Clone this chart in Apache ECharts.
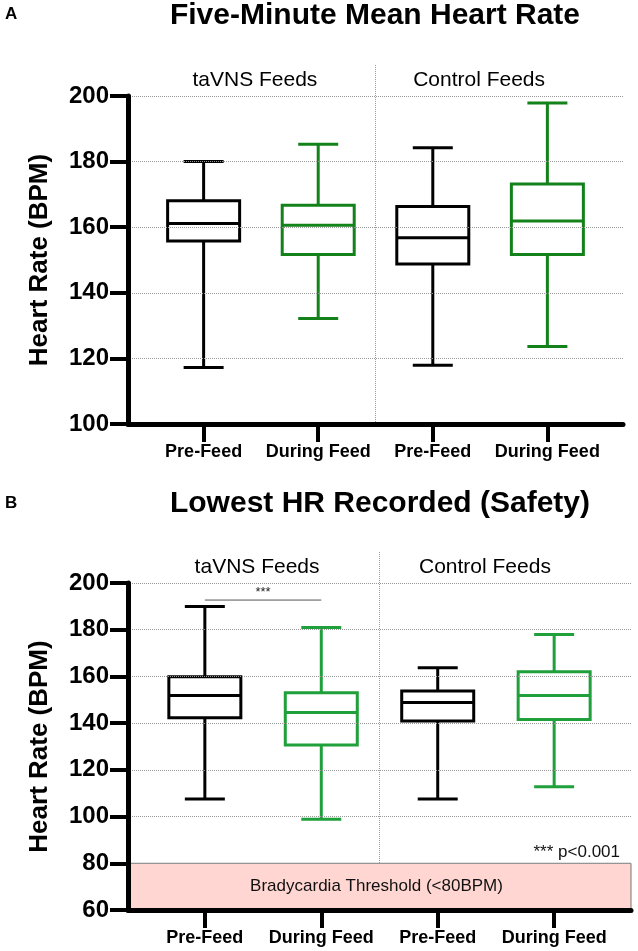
<!DOCTYPE html>
<html><head><meta charset="utf-8">
<script src="https://cdn.jsdelivr.net/npm/echarts@6/dist/echarts.min.js"></script>
<style>html,body{margin:0;padding:0;background:#fff}#c{width:638px;height:951px}</style>
</head><body><div id="c"></div>
<script>
// ---------------- data ----------------
const categories = ['Pre-Feed', 'During Feed', 'Pre-Feed', 'During Feed'];
const groupLabels = ['taVNS Feeds', 'Control Feeds'];
const titleA = 'Five-Minute Mean Heart Rate';
const titleB = 'Lowest HR Recorded (Safety)';
const yName = 'Heart Rate (BPM)';
// each box: [min, Q1, median, Q3, max]
const meanHR = [
  [117.2, 155.8, 161.1, 168.1, 180.0],
  [132.2, 151.7, 160.6, 166.7, 185.3],
  [117.9, 148.8, 156.8, 166.3, 184.2],
  [123.6, 151.7, 161.9, 173.2, 197.9]
];
const lowestHR = [
  [107.5, 142.3, 151.8, 159.9, 189.9],
  [98.8, 130.6, 144.6, 153.0, 180.9],
  [107.5, 140.9, 148.8, 153.8, 163.7],
  [112.8, 141.6, 151.8, 162.0, 178.0]
];
const yRangeA = [100, 200];
const yRangeB = [60, 200];
const yStep = 20;
const bradyRange = [60, 80];
const bradyLabel = 'Bradycardia Threshold (<80BPM)';
const sigPair = [1, 2];
const sigLevel = 192.7;
const sigMark = '***';
const pNote = '*** p<0.001';

// ---------------- style ----------------
const FONT = '"Liberation Sans", Arial, Helvetica, sans-serif';
const BLACK = '#000000';
const GREEN_A = '#14821b';
const GREEN_B = '#1fa03a';
const X_MIN = 0.34, X_MAX = 4.66;
const tickVals = categories.map((c, i) => i + 1);

function txt(x, y, text, size, weight, align, valign, color) {
  return {
    type: 'text', x: x, y: y,
    style: {
      text: text, fontSize: size, fontWeight: weight, fontFamily: FONT,
      fill: color || '#000', align: align, verticalAlign: valign,
      textAlign: align, textVerticalAlign: valign
    }
  };
}

function xAxisCfg(gi) {
  return {
    type: 'value', gridIndex: gi, min: X_MIN, max: X_MAX, z: 5,
    splitLine: { show: false },
    axisLine: { show: true, onZero: false, lineStyle: { color: '#000', width: 5 } },
    axisTick: { show: true, customValues: tickVals, length: 18, lineStyle: { color: '#000', width: 4 } },
    axisLabel: {
      customValues: tickVals, margin: 19, fontSize: 18, fontWeight: 'bold', color: '#000', fontFamily: FONT,
      formatter: v => categories[Math.round(v) - 1] || ''
    }
  };
}
function yAxisCfg(gi, range) {
  return {
    type: 'value', gridIndex: gi, min: range[0], max: range[1], interval: yStep, z: 5,
    name: yName, nameLocation: 'middle', nameGap: 75,
    nameTextStyle: { fontSize: 26, fontWeight: 'bold', color: '#000', fontFamily: FONT },
    axisLine: { show: true, onZero: false, lineStyle: { color: '#000', width: 5 } },
    axisTick: { show: true, length: 18, lineStyle: { color: '#000', width: 4 } },
    axisLabel: { margin: 19, fontSize: 24, fontWeight: 'bold', color: '#000', fontFamily: FONT },
    splitLine: { show: true, lineStyle: { color: '#999', type: 'dotted', width: 1 } }
  };
}

function boxRenderer(green) {
  return function (params, api) {
    const x = api.value(0);
    const c = params.dataIndex % 2 === 0 ? BLACK : green;
    const pt = k => api.coord([x, api.value(k)]);
    const pMin = pt(1), pQ1 = pt(2), pMed = pt(3), pQ3 = pt(4), pMax = pt(5);
    const cx = pMin[0], hb = 36, hc = 20;
    const st = { stroke: c, lineWidth: 3 };
    return {
      type: 'group', children: [
        { type: 'line', shape: { x1: cx, y1: pMax[1], x2: cx, y2: pQ3[1] }, style: st },
        { type: 'line', shape: { x1: cx, y1: pQ1[1], x2: cx, y2: pMin[1] }, style: st },
        { type: 'line', shape: { x1: cx - hc, y1: pMax[1], x2: cx + hc, y2: pMax[1] }, style: st },
        { type: 'line', shape: { x1: cx - hc, y1: pMin[1], x2: cx + hc, y2: pMin[1] }, style: st },
        { type: 'rect', shape: { x: cx - hb, y: pQ3[1], width: hb * 2, height: pQ1[1] - pQ3[1] },
          style: { stroke: c, lineWidth: 3, fill: 'transparent' } },
        { type: 'line', shape: { x1: cx - hb, y1: pMed[1], x2: cx + hb, y2: pMed[1] }, style: st }
      ]
    };
  };
}

function decoRenderer(range, lowY, withBrady) {
  return function (params, api) {
    const children = [];
    const top = api.coord([2.5, range[1]]);
    const bot = api.coord([2.5, lowY]);
    if (withBrady) {
      const a = api.coord([X_MIN, bradyRange[1]]);
      const b = api.coord([X_MAX, bradyRange[0]]);
      children.push({ type: 'rect', shape: { x: a[0], y: a[1], width: b[0] - a[0], height: b[1] - a[1] },
        style: { fill: '#ffd6d1', stroke: '#777', lineWidth: 1 } });
      children.push(txt((a[0] + b[0]) / 2 - 3, (a[1] + b[1]) / 2, bradyLabel, 17, 'normal', 'center', 'middle', '#111'));
      children.push(txt(b[0] - 11, a[1] - 2, pNote, 17, 'normal', 'right', 'bottom', '#111'));
      const s1 = api.coord([sigPair[0], sigLevel]);
      const s2 = api.coord([sigPair[1], sigLevel]);
      children.push({ type: 'line', shape: { x1: s1[0], y1: s1[1], x2: s2[0], y2: s2[1] }, style: { stroke: '#555', lineWidth: 1 } });
      children.push(txt((s1[0] + s2[0]) / 2, s1[1] - 1, sigMark, 13, 'normal', 'center', 'bottom', '#222'));
    }
    children.push({ type: 'line', shape: { x1: top[0], y1: top[1] - 31, x2: bot[0], y2: bot[1] },
      style: { stroke: '#999', lineWidth: 1, lineDash: [1, 1] } });
    const shifts = [-6, -11];
    groupLabels.forEach((g, i) => {
      const p = api.coord([2 * i + 1.5, range[1]]);
      children.push(txt(p[0] + shifts[i], p[1] - 16, g, 21, 'normal', 'center', 'middle', '#000'));
    });
    return { type: 'group', children: children };
  };
}

const chart = echarts.init(document.getElementById('c'), null, { renderer: 'canvas' });
chart.setOption({
  animation: false,
  backgroundColor: '#fff',
  grid: [
    { left: 128, top: 96, width: 495, height: 328 },
    { left: 128, top: 583, width: 503, height: 327 }
  ],
  xAxis: [xAxisCfg(0), xAxisCfg(1)],
  yAxis: [yAxisCfg(0, yRangeA), yAxisCfg(1, yRangeB)],
  graphic: [
    txt(5, 14, 'A', 17, 'bold', 'left', 'middle'),
    txt(375, 16, titleA, 30, 'bold', 'center', 'middle'),
    txt(5, 503, 'B', 17, 'bold', 'left', 'middle'),
    txt(380, 504, titleB, 30, 'bold', 'center', 'middle')
  ],
  series: [
    { type: 'custom', xAxisIndex: 1, yAxisIndex: 1, z: 1, silent: true,
      data: [[2.5, yRangeB[1]]], renderItem: decoRenderer(yRangeB, bradyRange[1], true) },
    { type: 'custom', xAxisIndex: 0, yAxisIndex: 0, z: 1, silent: true,
      data: [[2.5, yRangeA[1]]], renderItem: decoRenderer(yRangeA, yRangeA[0], false) },
    { type: 'custom', name: 'Five-minute mean', xAxisIndex: 0, yAxisIndex: 0, z: 3,
      encode: { x: 0, y: [1, 2, 3, 4, 5] },
      data: meanHR.map((d, i) => [i + 1].concat(d)), renderItem: boxRenderer(GREEN_A) },
    { type: 'custom', name: 'Lowest HR', xAxisIndex: 1, yAxisIndex: 1, z: 3,
      encode: { x: 0, y: [1, 2, 3, 4, 5] },
      data: lowestHR.map((d, i) => [i + 1].concat(d)), renderItem: boxRenderer(GREEN_B) }
  ]
});
</script></body></html>
